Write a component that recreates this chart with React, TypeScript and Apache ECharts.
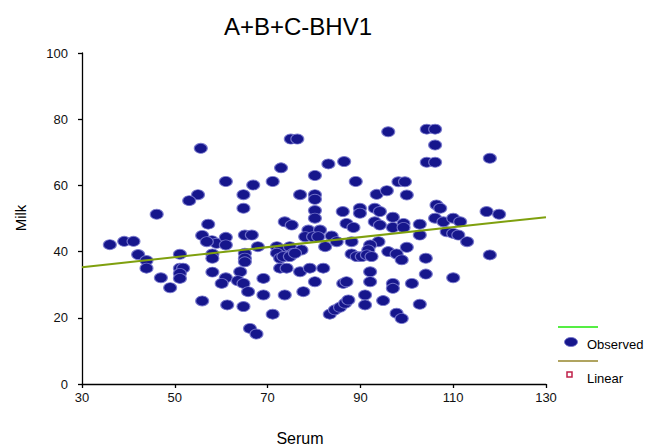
import React, { useEffect, useRef } from "react";
import * as echarts from "echarts";

const chartTitle = "A+B+C-BHV1";
const xName = "Serum";
const yName = "Milk";
const xTicks = [30, 50, 70, 90, 110, 130];
const yTicks = [0, 20, 40, 60, 80, 100];

const serum = [
  55.6, 61.0, 55.0, 53.1, 46.1, 57.2, 55.9, 36.0, 39.1, 41.1, 42.1, 43.9, 43.9, 47.0, 49.0, 51.1,
  51.1, 51.8, 51.1, 51.1, 58.1, 58.1, 58.1, 61.0, 60.1, 55.9, 61.3, 58.0, 59.0, 61.0, 61.0, 56.9,
  75.0, 76.4, 72.9, 83.1, 86.5, 66.9, 71.1, 80.2, 89.0, 64.8, 64.8, 77.0, 80.2, 80.2, 80.2, 80.2,
  86.2, 89.9, 89.9, 93.1, 94.2, 93.1, 94.2, 93.5, 95.7, 73.7, 75.2, 87.0, 88.5, 65.1, 66.6, 78.8,
  81.3, 78.1, 79.8, 80.9, 83.8, 84.9, 82.4, 88.1, 93.9, 92.1, 91.7, 67.9, 72.0, 72.7, 74.8, 75.5,
  77.3, 65.1, 65.1, 65.1, 72.0, 72.7, 73.4, 74.8, 75.9, 88.1, 89.2, 90.3, 91.4, 92.4, 72.7, 74.1,
  77.0, 79.1, 82.0, 64.1, 63.6, 64.8, 65.8, 69.1, 80.2, 86.3, 87.0, 92.1, 92.1, 69.1, 73.7, 77.7,
  64.8, 71.1, 66.2, 67.6, 83.4, 84.5, 85.6, 86.7, 87.4, 91.0, 91.0, 94.9,
  96.0, 104.3, 106.1, 106.1, 104.3, 106.1, 117.9, 98.2, 99.6, 100.0, 106.4, 107.2, 117.2, 119.9,
  97.0, 97.0, 99.3, 99.3, 102.8, 106.1, 107.9, 110.0, 111.5, 108.6, 110.0, 111.1, 113.0, 102.8,
  96.0, 97.8, 98.9, 100.0, 104.1, 117.9, 104.1, 110.0, 97.0, 97.0, 101.1, 102.8, 97.8, 98.9,
];

const milk = [
  71.2, 61.2, 57.2, 55.4, 51.3, 48.3, 44.9, 42.1, 43.1, 43.1, 39.1, 37.3, 35.0, 32.1, 29.1, 39.2,
  35.0, 35.0, 33.4, 31.9, 39.3, 38.0, 33.8, 32.1, 30.4, 25.1, 23.9, 43.3, 42.5, 44.3, 42.0, 43.0,
  74.0, 74.0, 65.3, 66.5, 67.2, 60.1, 61.2, 63.0, 61.2, 57.2, 53.1, 57.2, 57.2, 55.8, 52.4, 50.1,
  52.1, 53.1, 51.6, 53.1, 52.1, 49.0, 48.0, 57.3, 58.4, 49.0, 48.0, 48.5, 47.3, 45.0, 45.0, 46.5,
  46.5, 44.5, 44.5, 44.5, 44.7, 43.0, 41.5, 43.0, 43.0, 42.0, 40.5, 41.5, 41.5, 40.5, 41.5, 39.5,
  40.5, 39.5, 38.0, 36.9, 39.5, 38.0, 38.5, 38.5, 39.5, 39.3, 38.5, 38.5, 39.0, 38.5, 35.0, 35.0,
  33.9, 35.0, 35.0, 33.9, 31.2, 30.4, 27.9, 31.9, 30.9, 30.4, 30.9, 33.9, 30.9, 26.9, 26.9, 27.9,
  23.4, 21.1, 16.8, 15.1, 21.1, 22.4, 23.2, 24.4, 25.4, 26.9, 23.9, 25.2,
  76.2, 77.0, 77.0, 72.2, 67.0, 67.0, 68.2, 61.1, 61.1, 57.1, 54.1, 53.1, 52.1, 51.3,
  50.4, 47.3, 48.5, 47.3, 48.3, 50.1, 49.0, 50.1, 49.0, 46.0, 45.5, 45.0, 43.0, 45.0,
  40.0, 39.3, 37.5, 41.3, 38.0, 39.0, 33.2, 32.1, 30.4, 28.9, 30.4, 24.1, 21.4, 19.8,
];

// fitted line endpoints
const linearX = [30, 130];
const linearY = [35.3, 50.4];

const FONT = "'Liberation Sans', Arial, sans-serif";
const NAVY = "#16168c";

export default function App() {
  const ref = useRef<HTMLDivElement>(null);
  useEffect(() => {
    if (!ref.current) return;
    const chart = echarts.init(ref.current, undefined, { renderer: "svg" });
    const observed = serum.map((s, i) => [s, milk[i]]);
    const linear = linearX.map((x, i) => [x, linearY[i]]);
    chart.setOption({
      animation: false,
      backgroundColor: "#ffffff",
      grid: { left: 82, right: 100, top: 53, bottom: 63, containLabel: false },
      xAxis: {
        type: "value",
        min: xTicks[0],
        max: xTicks[xTicks.length - 1],
        interval: 20,
        splitLine: { show: false },
        axisLine: { show: true, onZero: false, lineStyle: { color: "#000", width: 1.3 } },
        axisTick: { show: true, length: 4, lineStyle: { color: "#000", width: 1.3 } },
        axisLabel: { color: "#111", fontFamily: FONT, fontSize: 13, margin: 7 },
      },
      yAxis: {
        type: "value",
        min: yTicks[0],
        max: yTicks[yTicks.length - 1],
        interval: 20,
        splitLine: { show: false },
        axisLine: { show: true, onZero: false, lineStyle: { color: "#000", width: 1.3 } },
        axisTick: { show: true, length: 4, lineStyle: { color: "#000", width: 1.3 } },
        axisLabel: { color: "#111", fontFamily: FONT, fontSize: 13, margin: 14 },
      },
      series: [
        {
          name: "Observed",
          type: "scatter",
          data: observed,
          symbol: "circle",
          symbolSize: [13, 10],
          itemStyle: { color: NAVY, borderColor: "rgba(120,120,205,0.9)", borderWidth: 1, opacity: 1 },
          z: 2,
        },
        {
          name: "Linear",
          type: "line",
          data: linear,
          showSymbol: false,
          symbol: "none",
          lineStyle: { color: "#7fa00e", width: 2 },
          z: 3,
        },
      ],
      graphic: [
        {
          type: "text",
          x: 298,
          y: 26,
          style: {
            text: chartTitle,
            font: `24px ${FONT}`,
            fill: "#000",
            align: "center",
            verticalAlign: "middle",
          },
        },
        {
          type: "text",
          x: 300,
          y: 438,
          style: { text: xName, font: `16px ${FONT}`, fill: "#000", align: "center", verticalAlign: "middle" },
        },
        {
          type: "text",
          x: 20,
          y: 218,
          rotation: Math.PI / 2,
          style: { text: yName, font: `15px ${FONT}`, fill: "#000", align: "center", verticalAlign: "middle" },
        },
        {
          type: "line",
          shape: { x1: 558, y1: 327, x2: 598, y2: 327 },
          style: { stroke: "#55ee44", lineWidth: 2 },
        },
        {
          type: "ellipse",
          shape: { cx: 571, cy: 342, rx: 6.5, ry: 4.5 },
          style: { fill: NAVY, stroke: "rgba(120,120,205,0.9)", lineWidth: 1 },
        },
        {
          type: "text",
          x: 587,
          y: 344,
          style: { text: "Observed", font: `13px ${FONT}`, fill: "#000", align: "left", verticalAlign: "middle" },
        },
        {
          type: "line",
          shape: { x1: 558, y1: 361, x2: 598, y2: 361 },
          style: { stroke: "#b0a460", lineWidth: 2 },
        },
        {
          type: "rect",
          shape: { x: 567, y: 372, width: 5, height: 5 },
          style: { fill: "#fff", stroke: "#c0204a", lineWidth: 1.5 },
        },
        {
          type: "text",
          x: 587,
          y: 378,
          style: { text: "Linear", font: `13px ${FONT}`, fill: "#000", align: "left", verticalAlign: "middle" },
        },
      ],
    });
    return () => chart.dispose();
  }, []);
  return <div ref={ref} style={{ width: 646, height: 447, position: "absolute", left: 0, top: 0 }} />;
}
